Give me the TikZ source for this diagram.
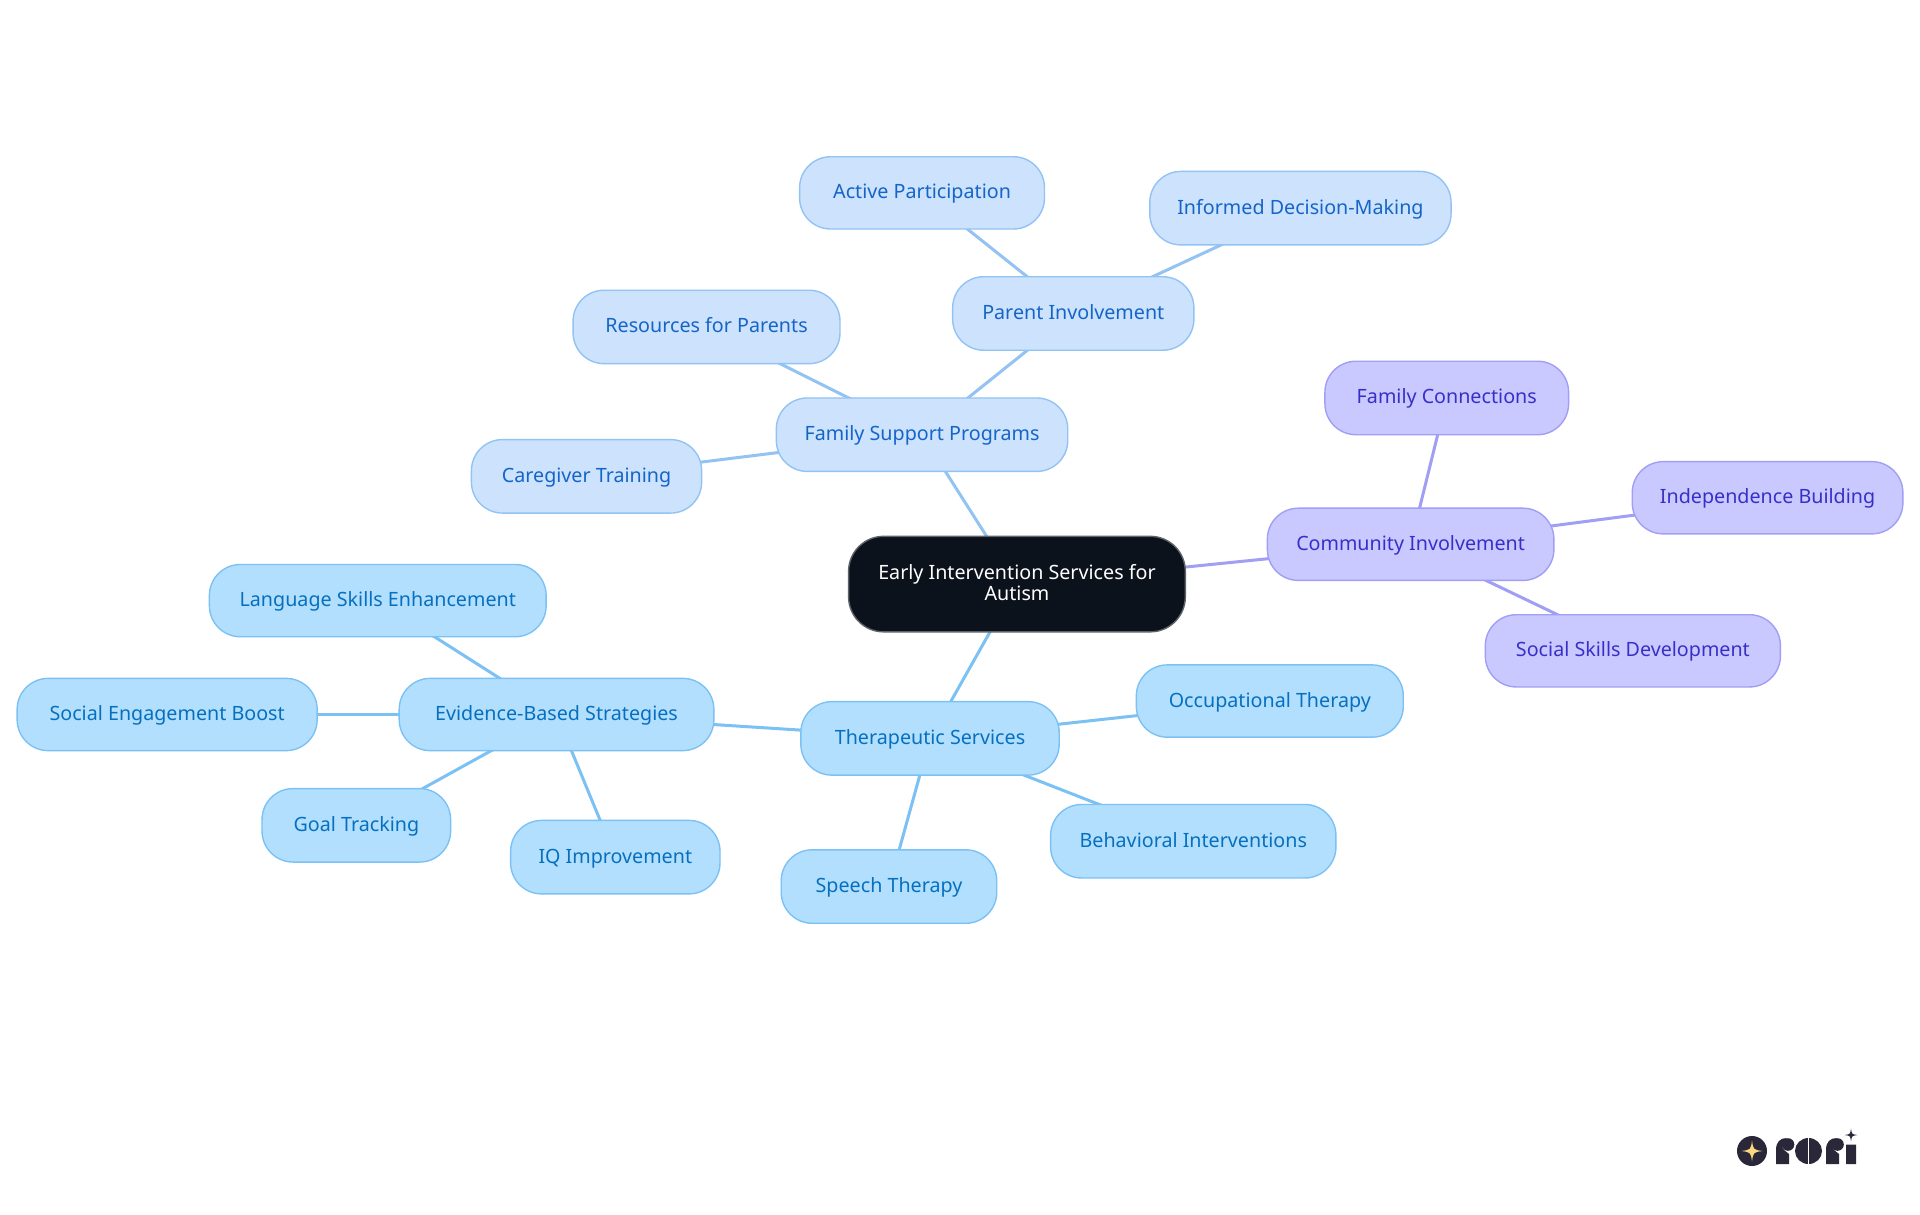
\documentclass[tikz,border=0pt]{standalone}
\usepackage{fontspec}
\setmainfont{Noto Sans}
\usetikzlibrary{backgrounds}
\definecolor{famfill}{HTML}{CCE2FD}
\definecolor{famline}{HTML}{93C3F3}
\definecolor{famtext}{HTML}{1565C8}
\definecolor{thefill}{HTML}{B3DFFF}
\definecolor{theline}{HTML}{7CC1F3}
\definecolor{thetext}{HTML}{0670BF}
\definecolor{comfill}{HTML}{C9C9FF}
\definecolor{comline}{HTML}{A09EF5}
\definecolor{comtext}{HTML}{3730C8}
\definecolor{rootfill}{HTML}{0C121B}
\definecolor{rootline}{HTML}{5F646B}
\definecolor{logodark}{HTML}{2A2838}
\definecolor{logogold}{HTML}{FBD77F}
\tikzset{
  x=1pt,y=-1pt,
  pill/.style={rectangle,rounded corners=31pt,line width=1.4pt,inner sep=0pt,
     font=\fontsize{19.7}{21}\selectfont,align=center,text height=16pt,text depth=4pt},
  fam/.style={pill,fill=famfill,draw=famline,text=famtext},
  the/.style={pill,fill=thefill,draw=theline,text=thetext},
  com/.style={pill,fill=comfill,draw=comline,text=comtext},
  rootn/.style={pill,rounded corners=35pt,fill=rootfill,draw=rootline,text=white,text height=37pt,text depth=5pt},
  link/.style={line width=3pt},
  famlink/.style={link,draw=famline},
  thelink/.style={link,draw=theline},
  comlink/.style={link,draw=comline},
}
% name, style, x1, x2, y1, y2 (in units of the 1568-wide view), text
\newcommand{\pillnode}[7]{%
  \pgfmathsetmacro{\cxx}{(#3+#4)/2*1.2245}%
  \pgfmathsetmacro{\cyy}{(#5+#6)/2*1.2245}%
  \pgfmathsetmacro{\wdd}{(#4-#3)*1.2245}%
  \pgfmathsetmacro{\htt}{(#6-#5)*1.2245}%
  \node[#2,minimum width=\wdd pt,minimum height=\htt pt] (#1) at (\cxx,\cyy) {#7};%
}
\newcommand{\sparkle}[4]{% x,y,radius,colour
  \fill[#4] (#1,#2-#3) .. controls (#1+0.12*#3,#2-0.12*#3) .. (#1+#3,#2)
     .. controls (#1+0.12*#3,#2+0.12*#3) .. (#1,#2+#3)
     .. controls (#1-0.12*#3,#2+0.12*#3) .. (#1-#3,#2)
     .. controls (#1-0.12*#3,#2-0.12*#3) .. cycle;}
\begin{document}
\begin{tikzpicture}
\useasboundingbox (0,0) rectangle (1920,1215);
\pillnode{root}{rootn}{693}{968}{438}{516}{Early Intervention Services for\\Autism}
\pillnode{family}{fam}{634}{872}{325}{385}{Family Support Programs}
\pillnode{parent}{fam}{778}{975}{226}{286}{Parent Involvement}
\pillnode{active}{fam}{653}{853}{128}{187}{Active Participation}
\pillnode{informed}{fam}{939}{1185}{140}{200}{Informed Decision-Making}
\pillnode{resources}{fam}{468}{686}{237}{297}{Resources for Parents}
\pillnode{caregiver}{fam}{385}{573}{359}{419}{Caregiver Training}
\pillnode{community}{com}{1035}{1269}{415}{474}{Community Involvement}
\pillnode{connections}{com}{1082}{1281}{295}{355}{Family Connections}
\pillnode{independence}{com}{1333}{1554}{377}{436}{Independence Building}
\pillnode{social}{com}{1213}{1454}{502}{561}{Social Skills Development}
\pillnode{therapeutic}{the}{654}{865}{573}{633}{Therapeutic Services}
\pillnode{evidence}{the}{326}{583}{554}{613}{Evidence-Based Strategies}
\pillnode{language}{the}{171}{446}{461}{520}{Language Skills Enhancement}
\pillnode{engagement}{the}{14}{259}{554}{613}{Social Engagement Boost}
\pillnode{goal}{the}{214}{368}{644}{704}{Goal Tracking}
\pillnode{iq}{the}{417}{588}{670}{730}{IQ Improvement}
\pillnode{occupational}{the}{928}{1146}{543}{602}{Occupational Therapy}
\pillnode{behavioral}{the}{858}{1091}{657}{717}{Behavioral Interventions}
\pillnode{speech}{the}{638}{814}{694}{754}{Speech Therapy}
\begin{scope}[on background layer]
\fill[white] (0,0) rectangle (1920,1215);
\draw[famlink] (root.center) -- (family.center);
\draw[famlink] (family.center) -- (parent.center);
\draw[famlink] (parent.center) -- (active.center);
\draw[famlink] (parent.center) -- (informed.center);
\draw[famlink] (family.center) -- (resources.center);
\draw[famlink] (family.center) -- (caregiver.center);
\draw[comlink] (root.center) -- (community.center);
\draw[comlink] (community.center) -- (connections.center);
\draw[comlink] (community.center) -- (independence.center);
\draw[comlink] (community.center) -- (social.center);
\draw[thelink] (root.center) -- (therapeutic.center);
\draw[thelink] (therapeutic.center) -- (evidence.center);
\draw[thelink] (evidence.center) -- (language.center);
\draw[thelink] (evidence.center) -- (engagement.center);
\draw[thelink] (evidence.center) -- (goal.center);
\draw[thelink] (evidence.center) -- (iq.center);
\draw[thelink] (therapeutic.center) -- (occupational.center);
\draw[thelink] (therapeutic.center) -- (behavioral.center);
\draw[thelink] (therapeutic.center) -- (speech.center);
\end{scope}
% logo
\fill[logodark] (1752,1151) circle (15);
\sparkle{1752}{1151}{10.5}{logogold}
% first r: stem with rounded shoulder, ball on the right
\fill[logodark] (1776,1164) -- (1776,1150) .. controls (1776,1142) and (1780,1138) .. (1787,1138) .. controls (1782,1141) and (1780,1146) .. (1784,1150) -- (1789,1154) -- (1789,1164) -- cycle;
\fill[logodark] (1788,1144.5) circle (6.3);
% o with a slit
\fill[logodark] (1808.5,1151) ellipse (13.5 and 13);
\fill[white] (1807.8,1137) rectangle (1809.2,1165);
% second r
\fill[logodark] (1826,1164) -- (1826,1150) .. controls (1826,1142) and (1830,1138) .. (1837,1138) .. controls (1832,1141) and (1830,1146) .. (1834,1150) -- (1839,1154) -- (1839,1164) -- cycle;
\fill[logodark] (1837.5,1144.5) circle (6.3);
% i
\fill[logodark] (1846,1144.5) -- (1856,1144.5) -- (1856,1164) -- (1846,1164) -- (1846,1150) -- cycle;
\sparkle{1851}{1135}{6.5}{logodark}
\end{tikzpicture}
\end{document}
